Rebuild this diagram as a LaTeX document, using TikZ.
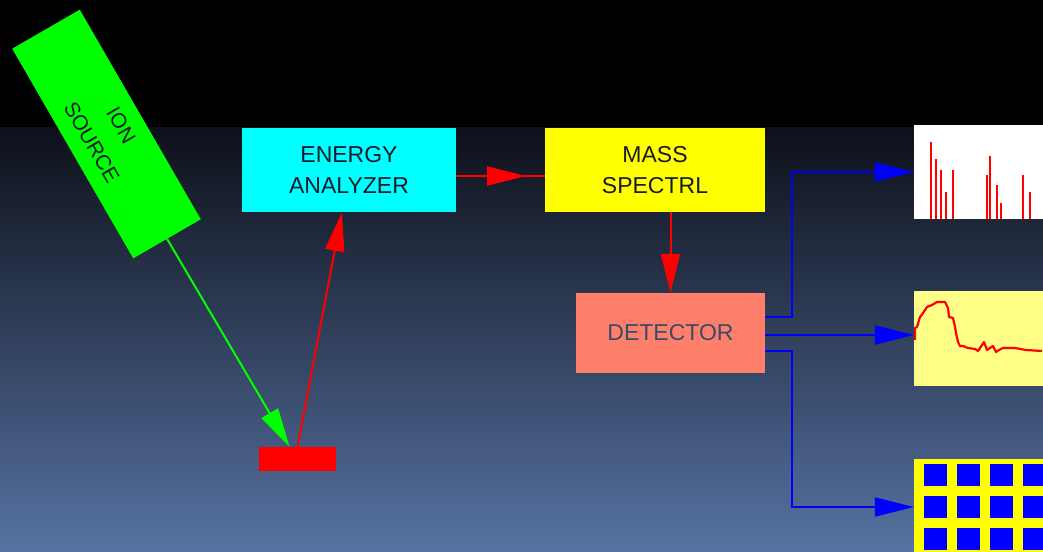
\documentclass[tikz,border=0pt]{standalone}
\usepackage{fontspec}
\setmainfont{Liberation Sans}
\usetikzlibrary{arrows.meta,decorations.markings}

\definecolor{bgtop}{RGB}{13,16,25}
\definecolor{bgbottom}{RGB}{86,114,162}
\definecolor{labelink}{RGB}{24,28,42}
\definecolor{detink}{RGB}{58,74,106}
\definecolor{ionbox}{RGB}{0,255,0}
\definecolor{cyanbox}{RGB}{0,255,255}
\definecolor{yellowbox}{RGB}{255,255,0}
\definecolor{salmonbox}{RGB}{255,128,106}
\definecolor{paleyellow}{RGB}{255,255,136}
\definecolor{pureblue}{RGB}{0,0,255}
\definecolor{purered}{RGB}{255,0,0}

\begin{document}
\begin{tikzpicture}[
  x=1pt,
  y=1pt,
  font=\fontsize{23}{31}\selectfont,
  >={Triangle[length=39pt,width=19pt]},
  box/.style={rectangle, inner sep=0pt, align=center, text=labelink},
  beam/.style={purered, line width=2pt},
  signal/.style={pureblue, line width=2pt, ->}
]
\useasboundingbox (0,0) rectangle (1043,551);
\clip (0,0) rectangle (1043,551);

% backdrop
\fill[black] (0,423) rectangle (1043,551);
\shade[top color=bgtop, bottom color=bgbottom] (0,0) rectangle (1043,423);

% source, target and the two analyzers
\node[box, fill=ionbox, minimum width=242pt, minimum height=78pt, rotate=-60,
  font=\fontsize{21}{34}\selectfont] (source) at (106.5,417) {ION\\SOURCE};
\node[box, fill=purered, minimum width=77pt, minimum height=24pt] (target) at (297.5,92) {};
\node[box, fill=cyanbox, minimum width=214pt, minimum height=84pt] (analyzer) at (349,381) {ENERGY\\ANALYZER};
\node[box, fill=yellowbox, minimum width=220pt, minimum height=84pt] (massspec) at (655,381) {MASS\\SPECTRL};
\node[box, fill=salmonbox, text=detink, minimum width=189pt, minimum height=80pt] (detector) at (670.5,218) {DETECTOR};

% output panels
\node[box, fill=white, minimum width=140pt, minimum height=94pt] (peaks) at (984,379) {};
\node[box, fill=paleyellow, minimum width=140pt, minimum height=95pt] (profile) at (984,212.5) {};
\node[box, fill=yellowbox, minimum width=140pt, minimum height=96pt] (map) at (984,44) {};

% mass peaks
\foreach \x/\y in {931/409,936/392,941/381,946/359,953/381,987/376,990/395,997/366,1001/348,1023/376,1030/359} {
  \draw[purered, line width=2pt] (\x,332) -- (\x,\y);
}

% energy profile
\draw[purered, line width=2.2pt, line join=round] plot coordinates {
  (915,211) (915,223) (917,224) (920,234) (923,238) (927,244) (932,246) (937,249)
  (945,249) (948,243) (949,234) (953,233) (955,224) (956,218) (958,209) (960,205)
  (963,205) (968,203) (975,202) (978,200) (982,206) (984,209) (987,201) (990,203)
  (993,205) (996,199) (999,201) (1003,203) (1015,203) (1026,201) (1042,200)};

% ion map
\foreach \i in {0,...,3} {
  \foreach \j in {0,...,2} {
    \fill[pureblue] (924+33*\i,65-32*\j) rectangle ++(23,22);
  }
}

% ion path
\draw[beam, ionbox, ->] (source.east) -- ([xshift=-8pt]target.north);
\draw[beam, ->] (target.north) -- ([xshift=-7pt]analyzer.south);
\draw[beam, postaction={decorate},
  decoration={markings, mark=at position 0.79 with {\arrow{>}}}]
  ([yshift=-6pt]analyzer.east) -- ([yshift=-6pt]massspec.west);
\draw[beam, ->] (detector.north |- massspec.south) -- (detector.north);

% detector outputs
\draw[signal] ([yshift=16pt]detector.east) -- ++(27,0) |- (peaks.west);
\draw[signal] ([yshift=-2pt]detector.east) -- ([yshift=-2pt]detector.east -| profile.west);
\draw[signal] ([yshift=-18pt]detector.east) -- ++(27,0) |- (map.west);
\end{tikzpicture}
\end{document}
